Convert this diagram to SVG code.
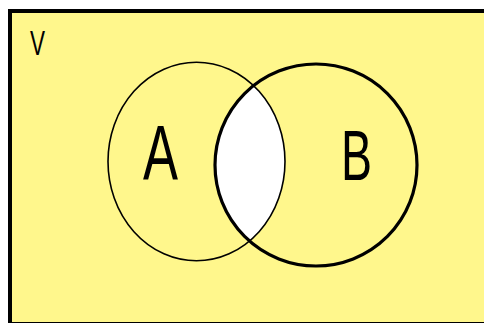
<svg xmlns="http://www.w3.org/2000/svg" width="484" height="323" viewBox="0 0 484 323">
  <style>
    .lbl { font-family: "Liberation Sans", Arial, sans-serif; fill: #000; }
    .set { fill: none; stroke: #000; }
  </style>
  <defs>
    <clipPath id="clipA">
      <ellipse cx="196.5" cy="161.5" rx="88.5" ry="99.3"/>
    </clipPath>
  </defs>
  <rect x="0" y="0" width="484" height="323" fill="#ffffff"/>
  <g id="universe">
    <rect x="10" y="11" width="500" height="313" fill="#FFF78C" stroke="#000" stroke-width="4"/>
    <text class="lbl" x="30" y="55" font-size="35" textLength="15" lengthAdjust="spacingAndGlyphs">V</text>
  </g>
  <g id="intersection">
    <circle cx="316" cy="165" r="101" fill="#ffffff" clip-path="url(#clipA)"/>
  </g>
  <g id="setA">
    <ellipse class="set" cx="196.5" cy="161.5" rx="88.5" ry="99.3" stroke-width="1.6"/>
    <text class="lbl" x="143" y="180" font-size="77" textLength="35" lengthAdjust="spacingAndGlyphs">A</text>
  </g>
  <g id="setB">
    <circle class="set" cx="316" cy="165" r="101" stroke-width="3.2"/>
    <text class="lbl" x="341" y="180" font-size="70" textLength="31" lengthAdjust="spacingAndGlyphs">B</text>
  </g>
  <g id="connectors"/>
</svg>
